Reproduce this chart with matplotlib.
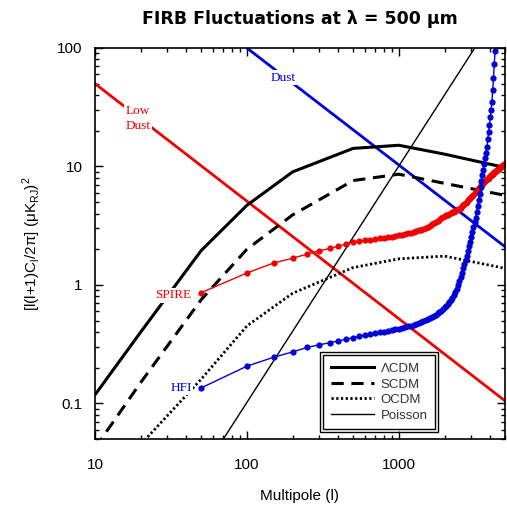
import matplotlib.pyplot as plt
import numpy as np
from matplotlib.patches import Rectangle

# model curves
ell_model = [10, 20, 50, 100, 200, 500, 1000, 2000, 5000]
lcdm = [0.118, 0.40, 1.95, 4.7, 9.0, 14.2, 15.1, 12.7, 9.8]
scdm = [0.042, 0.15, 0.75, 2.0, 3.9, 7.6, 8.6, 7.2, 5.7]
ocdm = [0.016, 0.045, 0.16, 0.45, 0.85, 1.4, 1.66, 1.75, 1.38]

poisson_ell = [70, 3160]
poisson = [0.05, 100]

lowdust_ell = [10, 5000]
lowdust = [50, 0.105]
dust_ell = [100, 5000]
dust = [100, 2.1]

# noise curves, one point every 50 multipoles
ell_noise = np.arange(50, 5001, 50)
spire = [0.86, 1.26, 1.53, 1.68, 1.82, 1.94, 2.03, 2.12, 2.21, 2.30,
         2.34, 2.38, 2.41, 2.44, 2.47, 2.50, 2.53, 2.56, 2.59, 2.62,
         2.65, 2.69, 2.72, 2.75, 2.79, 2.83, 2.88, 2.92, 2.96, 3.00,
         3.08, 3.16, 3.24, 3.32, 3.40, 3.48, 3.56, 3.64, 3.72, 3.80,
         3.86, 3.92, 3.98, 4.04, 4.10, 4.16, 4.22, 4.28, 4.34, 4.40,
         4.50, 4.61, 4.72, 4.83, 4.94, 5.05, 5.16, 5.27, 5.38, 5.50,
         5.64, 5.79, 5.94, 6.09, 6.24, 6.39, 6.54, 6.69, 6.84, 7.00,
         7.13, 7.26, 7.39, 7.52, 7.65, 7.78, 7.91, 8.04, 8.17, 8.30,
         8.42, 8.54, 8.66, 8.78, 8.90, 9.02, 9.14, 9.26, 9.38, 9.50,
         9.60, 9.70, 9.80, 9.90, 10.0, 10.1, 10.2, 10.3, 10.4, 10.5]
hfi = [0.135, 0.206, 0.245, 0.272, 0.297, 0.312, 0.325, 0.336, 0.347, 0.358,
       0.368, 0.376, 0.383, 0.390, 0.397, 0.403, 0.410, 0.416, 0.422, 0.428,
       0.434, 0.440, 0.447, 0.454, 0.461, 0.468, 0.476, 0.485, 0.494, 0.503,
       0.513, 0.524, 0.536, 0.548, 0.561, 0.575, 0.590, 0.607, 0.625, 0.645,
       0.667, 0.69, 0.715, 0.745, 0.78, 0.82, 0.87, 0.93, 1.00, 1.08,
       1.17, 1.27, 1.38, 1.50, 1.63, 1.77, 1.93, 2.11, 2.32, 2.55,
       2.80, 3.07, 3.37, 3.70, 4.1, 4.6, 5.2, 5.9, 6.7, 7.5,
       8.4, 9.4, 10.5, 11.7, 13.0, 14.5, 17, 19.5, 22.5, 26,
       30, 35, 44, 56, 73, 95, 122, 155, 195, 245,
       310, 390, 490, 620, 780, 980, 1230, 1550, 1950, 2450]

red = '#f00000'
blue = '#0000d8'

fig = plt.figure(figsize=(5.07, 5.07), dpi=100)
ax = fig.add_axes([95/507, 68/507, 410/507, 391/507])

ax.plot(lowdust_ell, lowdust, color=red, lw=2.0)
ax.plot(dust_ell, dust, color=blue, lw=2.0)
ax.plot(ell_model, lcdm, color='black', lw=2.2, label='ΛCDM')
ax.plot(ell_model, scdm, color='black', lw=2.2, ls=(0, (4, 2.5)), label='SCDM')
ax.plot(ell_model, ocdm, color='black', lw=2.0, ls=(0, (0.8, 0.9)), label='OCDM')
ax.plot(poisson_ell, poisson, color='black', lw=1.0, label='Poisson')
ax.plot(ell_noise, spire, color=red, lw=1.0, marker='o', ms=4.5, mew=0)
ax.plot(ell_noise, hfi, color=blue, lw=1.0, marker='o', ms=4.5, mew=0)

ax.set_xscale('log')
ax.set_yscale('log')
ax.set_xlim(10, 5000)
ax.set_ylim(0.05, 100)
ax.set_xticks([10, 100, 1000])
ax.set_xticklabels(['10', '100', '1000'])
ax.set_yticks([0.1, 1, 10, 100])
ax.set_yticklabels(['0.1', '1', '10', '100'])
ax.tick_params(which='both', direction='in', top=True, right=True, width=1,
               labelsize=11)
ax.tick_params(which='major', length=6)
ax.tick_params(which='minor', length=3)
ax.tick_params(axis='x', pad=14)
ax.tick_params(axis='y', pad=9)
for lab in ax.get_xticklabels() + ax.get_yticklabels():
    lab.set_fontfamily('Liberation Sans')
for s in ax.spines.values():
    s.set_linewidth(1.2)

lbl = dict(family='Liberation Serif', fontsize=9.5,
           bbox=dict(facecolor='white', edgecolor='none', pad=1.0))
ax.text(19.1, 25.5, 'Low\nDust', color=red, ha='center', va='center',
        multialignment='center', linespacing=1.3, **lbl)
ax.text(172, 56, 'Dust', color=blue, ha='center', va='center', **lbl)
ax.text(43, 0.82, 'SPIRE', color=red, ha='right', va='center', **lbl)
ax.text(43.5, 0.136, 'HFI', color=blue, ha='right', va='center', **lbl)

ax.set_title('FIRB Fluctuations at λ = 500 μm', fontsize=12.5,
             fontweight='bold', family='DejaVu Sans', pad=17)
ax.set_xlabel('Multipole (l)', fontsize=11, family='Liberation Sans',
              labelpad=12)
ax.set_ylabel(r'[l(l+1)C$_\mathregular{l}$/2π] (μK$_\mathregular{RJ}$)$^\mathregular{2}$',
              fontsize=11, family='Liberation Sans', labelpad=10)

leg = ax.legend(loc='lower left', bbox_to_anchor=(0.557, 0.026),
                handlelength=3.3, handletextpad=0.5,
                labelspacing=0.25, borderpad=0.55, fancybox=False,
                framealpha=1, edgecolor='black', borderaxespad=0,
                prop={'family': 'Liberation Sans', 'size': 9.5})
leg.get_frame().set_linewidth(1.0)
for t in leg.get_texts():
    t.set_color('#333333')

fig.canvas.draw()
bb = leg.get_frame().get_window_extent().transformed(ax.transAxes.inverted())
dx = 3 / 410
dy = 3 / 391
ax.add_patch(Rectangle((bb.x0 - dx, bb.y0 - dy), bb.width + 2*dx,
                       bb.height + 2*dy, transform=ax.transAxes,
                       facecolor='none', edgecolor='black', lw=1.0,
                       zorder=6, clip_on=False))

fig.savefig('out.png', dpi=100)
